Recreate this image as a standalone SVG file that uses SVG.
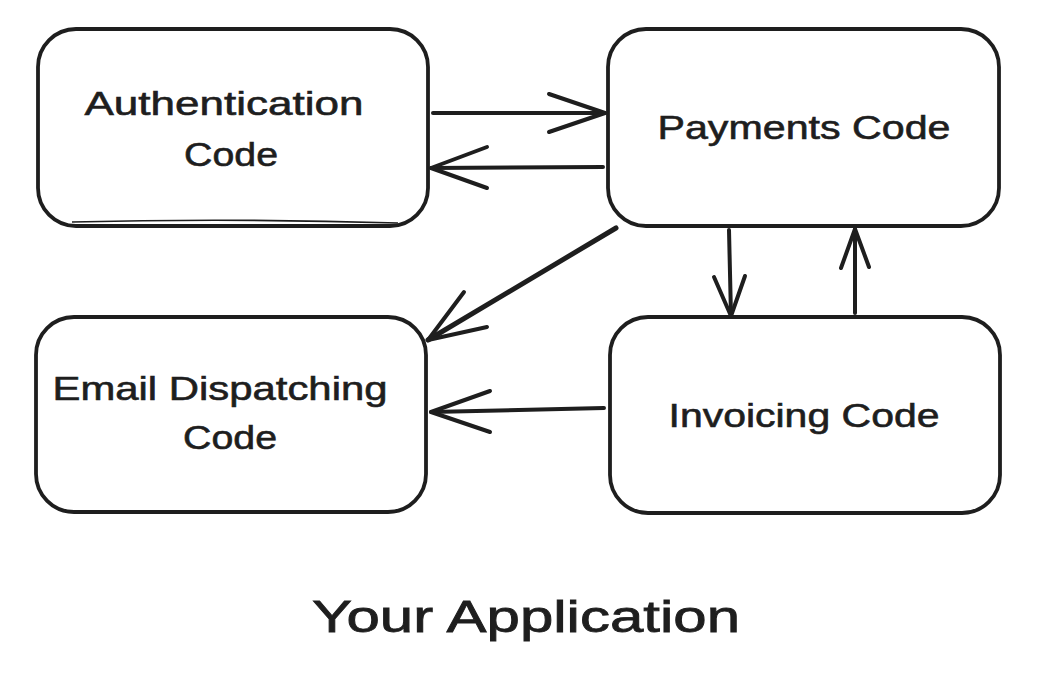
<svg xmlns="http://www.w3.org/2000/svg" width="1040" height="698" viewBox="0 0 1040 698">
<style>
.box{fill:#ffffff;stroke:#1e1e1e;stroke-width:3.8;stroke-linejoin:round}
.box2{fill:none;stroke:#1e1e1e;stroke-width:1.6}
.ln{fill:none;stroke:#1e1e1e;stroke-width:4;stroke-linecap:round;stroke-linejoin:round}
.t{font-family:"Liberation Sans","Lato",sans-serif;fill:#1e1e1e;text-anchor:middle;font-size:33px;stroke:#1e1e1e;stroke-width:0.6}
.big{font-size:44px;stroke-width:0.8}
</style>
<rect width="1040" height="698" fill="#ffffff"/>
<g id="connectors">
<g id="auth-to-payments"><path class="ln" d="M433 113 L605 113"/><path class="ln" d="M549 94 L605 113 L549 132"/></g>
<g id="payments-to-auth"><path class="ln" d="M603 167 L431 168"/><path class="ln" d="M487 147 L431 168 L487 188"/></g>
<g id="payments-to-email"><path class="ln" d="M616 228 L428 340" style="stroke-width:5"/><path class="ln" d="M464 292 L428 340 L487 327"/></g>
<g id="payments-to-invoicing"><path class="ln" d="M729 230 L731 316"/><path class="ln" d="M714 277 L731 316 L745 276"/></g>
<g id="invoicing-to-payments"><path class="ln" d="M855 313 L855 229"/><path class="ln" d="M841 268 L855 229 L869 267"/></g>
<g id="invoicing-to-email"><path class="ln" d="M604 408 L431 412"/><path class="ln" d="M490 391 L431 412 L490 432"/></g>
</g>
<g id="node-auth">
<rect class="box" x="38" y="29" width="390" height="197" rx="38"/>
<path class="box2" d="M72 222 Q230 218 398 223"/>
<text class="t" x="224" y="115" textLength="279" lengthAdjust="spacingAndGlyphs">Authentication</text>
<text class="t" x="231" y="166" textLength="94" lengthAdjust="spacingAndGlyphs">Code</text>
</g>
<g id="node-payments">
<rect class="box" x="608" y="29" width="391" height="197" rx="38"/>
<text class="t" x="804" y="139" textLength="293" lengthAdjust="spacingAndGlyphs">Payments Code</text>
</g>
<g id="node-email">
<rect class="box" x="36" y="317" width="390" height="195" rx="38"/>
<text class="t" x="220" y="400" textLength="335" lengthAdjust="spacingAndGlyphs">Email Dispatching</text>
<text class="t" x="230" y="449" textLength="94" lengthAdjust="spacingAndGlyphs">Code</text>
</g>
<g id="node-invoicing">
<rect class="box" x="610" y="317" width="390" height="196" rx="38"/>
<text class="t" x="804" y="427" textLength="271" lengthAdjust="spacingAndGlyphs">Invoicing Code</text>
</g>
<g id="title">
<text class="t big" x="526" y="632" textLength="428" lengthAdjust="spacingAndGlyphs">Your Application</text>
</g>
</svg>
